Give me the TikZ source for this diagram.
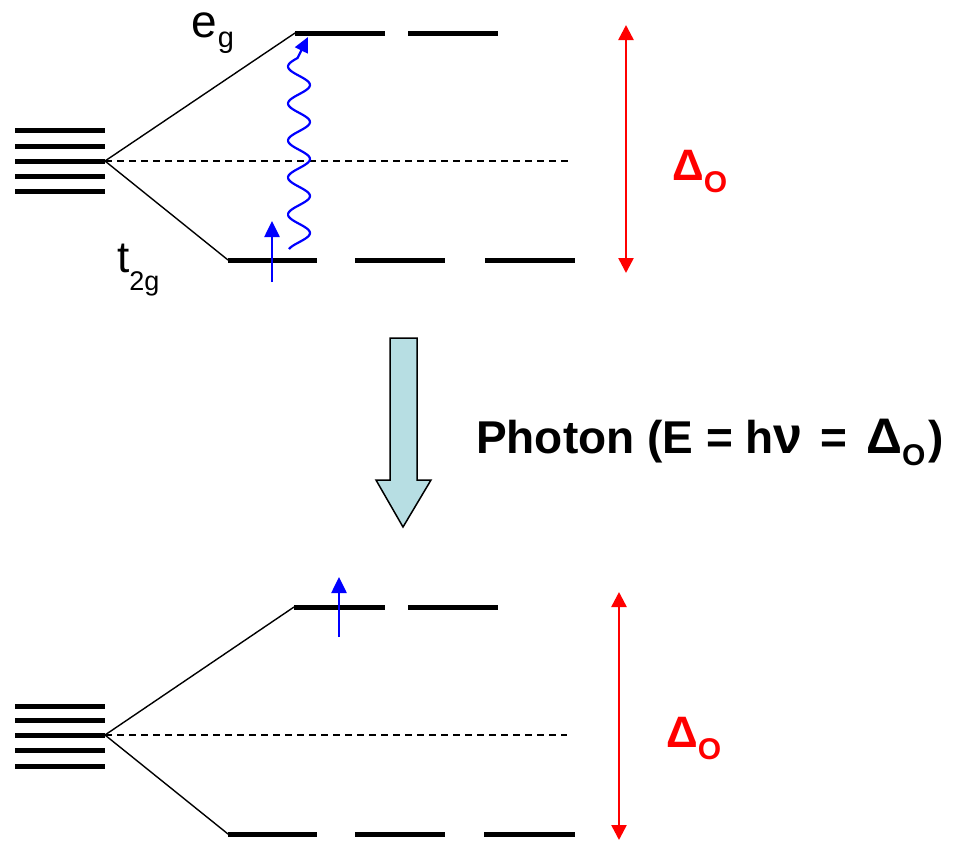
\documentclass[tikz,border=0pt]{standalone}
\usepackage{fontspec}
\setmainfont{Liberation Sans}
\usetikzlibrary{arrows.meta}
\definecolor{arrowfill}{HTML}{B7DEE3}
\begin{document}
\begin{tikzpicture}[x=1pt,y=-1pt,
  level/.style={line width=5pt},
  split/.style={line width=1.4pt},
  centre/.style={line width=1.1pt, dash pattern=on 7pt off 5pt},
  gap/.style={red, line width=2.5pt, {Triangle[width=15pt,length=15pt]}-{Triangle[width=15pt,length=15pt]}},
  spin/.style={blue, line width=2.6pt, -{Triangle[width=15pt,length=16pt]}},
  wave/.style={blue, line width=2.2pt, line join=round, -{Triangle[width=14pt,length=15pt]}},
  lbl/.style={inner sep=0pt, anchor=base west},
  dlbl/.style={inner sep=0pt, anchor=base west, text=red, font=\bfseries\fontsize{44}{44}\selectfont}]
\useasboundingbox (0,0) rectangle (953,841);

% ---------- upper diagram ----------
\foreach \yy in {130,146,161,176,191}{\draw[level] (15,\yy) -- (105,\yy);}
\coordinate (ts) at (105,161);
\coordinate (teg) at (295,33);
\coordinate (tt) at (228,260);
\coordinate (tdash) at (570,161);
\draw[split] (ts) -- (teg);
\draw[split] (ts) -- (tt);
\draw[centre] (ts) -- (tdash);
\draw[level] (teg) -- (385,33);
\draw[level] (408,33) -- (498,33);
\draw[level] (tt) -- (317,260);
\draw[level] (355,260) -- (445,260);
\draw[level] (485,260) -- (575,260);
\node[lbl, font=\fontsize{46}{46}\selectfont] (eg) at (191,37) {e\kern1pt\raisebox{-10pt}{\fontsize{29}{29}\selectfont g}};
\node[lbl, font=\fontsize{44}{44}\selectfont] (t2g) at (117,272) {t\raisebox{-18pt}{\fontsize{27}{27}\selectfont 2g}};
\coordinate (ta0) at (272,282);
\coordinate (ta1) at (272,221);
\draw[spin] (ta0) -- (ta1);
\coordinate (wtip) at (308,37);
\draw[wave] plot[domain=249:58, samples=120, smooth, variable=\t] ({299+11*cos(9.72973*(\t-233))},\t) -- (wtip);
\coordinate (dt1) at (626,25);
\coordinate (dt2) at (626,273);
\draw[gap] (dt1) -- (dt2);
\node[dlbl] (dtop) at (672,180) {Δ\raisebox{-12pt}{\fontsize{30}{30}\selectfont O}};

% ---------- photon arrow ----------
\draw[fill=arrowfill, line width=1.5pt, line join=miter]
  (390,338) -- (417,338) -- (417,480) -- (431,480) -- (403,527) -- (376,480) -- (390,480) -- cycle;
\node[inner sep=0pt, anchor=base west, font=\bfseries\fontsize{46}{46}\selectfont] (photon) at (476,453)
  {Photon (E = h{\fontsize{52}{52}\selectfont ν}\kern5pt\ =\kern6pt\ {\fontsize{50}{50}\selectfont Δ}\raisebox{-12pt}{\fontsize{30}{30}\selectfont O}\kern3pt)};

% ---------- lower diagram ----------
\foreach \yy in {706,720,735,750,766}{\draw[level] (15,\yy) -- (105,\yy);}
\coordinate (bs) at (105,735);
\coordinate (beg) at (294,607);
\coordinate (bt) at (228,834);
\coordinate (bdash) at (567,735);
\draw[split] (bs) -- (beg);
\draw[split] (bs) -- (bt);
\draw[centre] (bs) -- (bdash);
\draw[level] (beg) -- (385,607);
\draw[level] (408,607) -- (498,607);
\draw[level] (bt) -- (317,834);
\draw[level] (355,834) -- (445,834);
\draw[level] (484,834) -- (575,834);
\coordinate (ba0) at (339,637);
\coordinate (ba1) at (339,577);
\draw[spin] (ba0) -- (ba1);
\coordinate (db1) at (619,592);
\coordinate (db2) at (619,840);
\draw[gap] (db1) -- (db2);
\node[dlbl] (dbot) at (666,747) {Δ\raisebox{-12pt}{\fontsize{30}{30}\selectfont O}};
\end{tikzpicture}
\end{document}
